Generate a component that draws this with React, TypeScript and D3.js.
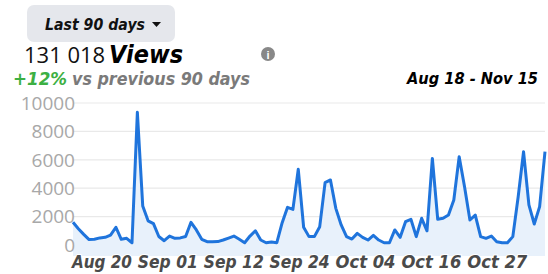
import * as d3 from "d3";

// daily views (Aug 18 -> Nov 15)
const views = [
  1600, 1150, 750, 380, 400, 500, 540, 700, 1250, 400, 470, 160, 9350, 2750, 1700, 1500, 600, 300, 630, 470, 500, 600, 1600,
  1060, 400, 230, 230, 240, 350, 490, 630, 400, 160, 630, 1000, 350, 160, 210, 160, 1570, 2650, 2510, 5330, 1250, 590, 590,
  1290, 4390, 4580, 2580, 1410, 590, 420, 820, 540, 350, 680, 350, 160, 160, 1060, 540, 1640, 1810, 590, 1880, 1000,
  6100, 1810, 1880, 2110, 3170, 6220, 4100, 1760, 2110, 590, 470, 630, 230, 160, 160, 590, 3400, 6570, 2820, 1480, 2700, 6570,
];
const xLabels = ["Aug 20", "Sep 01", "Sep 12", "Sep 24", "Oct 04", "Oct 16", "Oct 27"];
const yTicks = [0, 2000, 4000, 6000, 8000, 10000];

const W = 548;
const H = 274;
const heavy = "'DejaVu Sans', sans-serif";
const fit = "spacingAndGlyphs";

export default function App() {
  const x = d3.scaleLinear().domain([0, views.length - 1]).range([73, 545]);
  const y = d3.scaleLinear().domain([0, 10000]).range([245, 103]);
  // labels sit evenly spaced under the chart
  const xl = d3.scalePoint<string>().domain(xLabels).range([x(5.4), x(79.1)]);

  const line = d3
    .line<number>()
    .x((_, i) => x(i))
    .y((d) => y(d));
  const area = d3
    .area<number>()
    .x((_, i) => x(i))
    .y0(256)
    .y1((d) => y(d));

  return (
    <svg
      width={W}
      height={H}
      style={{ position: "absolute", left: 0, top: 0, background: "#fff" }}
    >
      {/* dropdown */}
      <rect x={27} y={5} width={148} height={37} rx={7} fill="#e5e7ec" />
      <text x={45} y={30} fontFamily={heavy} fontWeight={700} fontStyle="italic" fontSize={16} fill="#111" textLength={100} lengthAdjust={fit}>
        Last 90 days
      </text>
      <path d="M152,22 L161,22 L156.5,27 Z" fill="#111" />

      {/* title */}
      <text x={24} y={63} fontFamily="'Open Sans', sans-serif" fontSize={22} fill="#111">
        131 018
      </text>
      <text x={109} y={63} fontFamily={heavy} fontWeight={700} fontStyle="italic" fontSize={25} fill="#000" textLength={74} lengthAdjust={fit}>
        Views
      </text>
      <circle cx={268} cy={54} r={7} fill="#888" />
      <text x={268} y={58.5} textAnchor="middle" fontFamily="Arial, sans-serif" fontWeight={700} fontSize={11} fill="#fff">
        i
      </text>

      <text x={13} y={85} fontFamily={heavy} fontWeight={700} fontStyle="italic" fontSize={17} fill="#3cb043" textLength={54} lengthAdjust={fit}>
        +12%
      </text>
      <text x={72} y={85} fontFamily={heavy} fontWeight={700} fontStyle="italic" fontSize={17} fill="#7a7a7a" textLength={178} lengthAdjust={fit}>
        vs previous 90 days
      </text>
      <text x={407} y={84} fontFamily={heavy} fontWeight={700} fontStyle="italic" fontSize={15} fill="#000" textLength={131} lengthAdjust={fit}>
        Aug 18 - Nov 15
      </text>

      {/* grid */}
      {yTicks.map((t) => (
        <line key={t} x1={73} x2={545} y1={y(t)} y2={y(t)} stroke="#e9e9e9" strokeWidth={1.2} />
      ))}

      <path d={area(views) ?? ""} fill="#e8f1fb" />
      <path d={line(views) ?? ""} fill="none" stroke="#1f74dc" strokeWidth={3} strokeLinejoin="round" />

      {yTicks.map((t) => (
        <text
          key={t}
          x={75}
          y={y(t)}
          dy="0.36em"
          textAnchor="end"
          fontFamily="'Open Sans', sans-serif"
          fontSize={19}
          fill="#a8a8a8"
        >
          {t}
        </text>
      ))}

      {xLabels.map((l) => (
        <text
          key={l}
          x={xl(l)}
          y={268}
          textAnchor="middle"
          fontFamily={heavy}
          fontWeight={700}
          fontStyle="italic"
          fontSize={18.5}
          fill="#4a4a4a"
          stroke="#fff"
          strokeWidth={2}
          paintOrder="stroke"
          textLength={60}
          lengthAdjust={fit}
        >
          {l}
        </text>
      ))}
    </svg>
  );
}
